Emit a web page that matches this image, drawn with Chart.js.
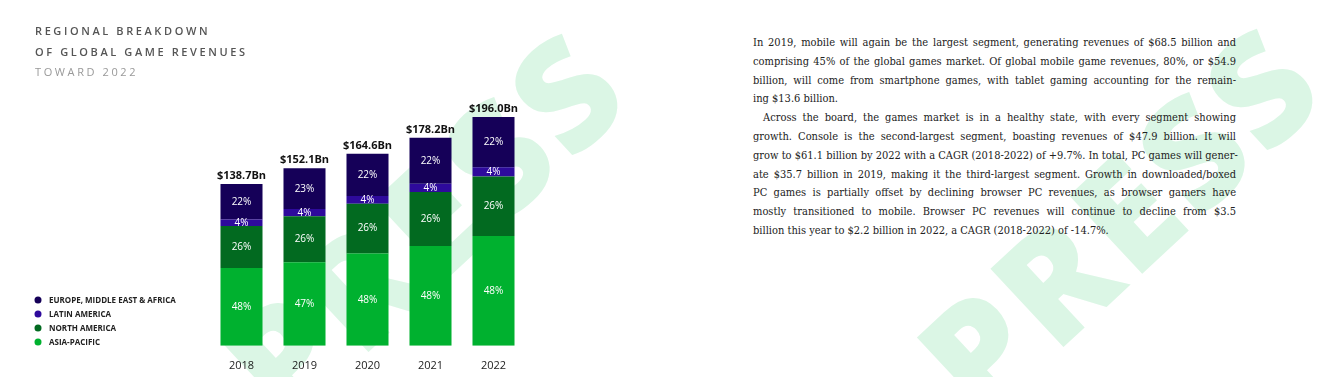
<!DOCTYPE html>
<html>
<head>
<meta charset="utf-8">
<script src="https://cdn.jsdelivr.net/npm/chart.js@4.4.0/dist/chart.umd.min.js"></script>
<style>
  body { margin: 0; width: 1321px; height: 377px; background: #fff; overflow: hidden; position: relative; font-family: 'Open Sans', sans-serif; }
  .mark { position: absolute; font: 800 150px/1 'Open Sans', sans-serif; color: #dbf6e5; white-space: nowrap; letter-spacing: 6px; transform: translate(-50%, -50%) rotate(-43deg); z-index: 0; }
  #title { position: absolute; left: 35px; top: 21px; font-size: 11px; line-height: 20.5px; letter-spacing: 2.6px; z-index: 2; }
  #title .dark { color: #555; font-weight: 600; }
  #title .light { color: #999; font-weight: 400; }
  #chart { position: absolute; left: 0; top: 0; z-index: 1; }
  #text { position: absolute; left: 753px; top: 34px; width: 483px; font-family: 'DejaVu Serif Condensed', 'DejaVu Serif', serif; font-stretch: condensed; font-size: 11px; line-height: 18.8px; color: #222; z-index: 2; }
  #text div { white-space: nowrap; text-align: justify; text-align-last: justify; }
  #text div.last { text-align-last: left; }
  #text div.indent { padding-left: 10px; }
</style>
</head>
<body>
<div class="mark" style="left:423px; top:222px;">PRESS</div>
<div class="mark" style="left:1118px; top:217px;">PRESS</div>

<div id="title">
  <div class="dark">REGIONAL BREAKDOWN</div>
  <div class="dark">OF GLOBAL GAME REVENUES</div>
  <div class="light">TOWARD 2022</div>
</div>

<canvas id="chart" width="560" height="391"></canvas>

<div id="text">
  <div>In 2019, mobile will again be the largest segment, generating revenues of $68.5 billion and</div>
  <div>comprising 45% of the global games market. Of global mobile game revenues, 80%, or $54.9</div>
  <div>billion, will come from smartphone games, with tablet gaming accounting for the remain-</div>
  <div class="last">ing $13.6 billion.</div>
  <div class="indent">Across the board, the games market is in a healthy state, with every segment showing</div>
  <div>growth. Console is the second-largest segment, boasting revenues of $47.9 billion. It will</div>
  <div>grow to $61.1 billion by 2022 with a CAGR (2018-2022) of +9.7%. In total, PC games will gener-</div>
  <div>ate $35.7 billion in 2019, making it the third-largest segment. Growth in downloaded/boxed</div>
  <div>PC games is partially offset by declining browser PC revenues, as browser gamers have</div>
  <div>mostly transitioned to mobile. Browser PC revenues will continue to decline from $3.5</div>
  <div class="last">billion this year to $2.2 billion in 2022, a CAGR (2018-2022) of -14.7%.</div>
</div>

<script>
// años
const years = ['2018', '2019', '2020', '2021', '2022'];

// ingresos por región en miles de millones
const asiaPacific = [66.6, 71.5, 79.0, 85.5, 94.1];
const northAmerica = [36.1, 39.5, 42.8, 46.3, 51.0];
const latinAmerica = [5.5, 6.1, 6.6, 7.1, 7.8];
const emea = [30.5, 35.0, 36.2, 39.3, 43.1];

// etiquetas de porcentaje de cada segmento
const asiaPacificPct = ['48%', '47%', '48%', '48%', '48%'];
const northAmericaPct = ['26%', '26%', '26%', '26%', '26%'];
const latinAmericaPct = ['4%', '4%', '4%', '4%', '4%'];
const emeaPct = ['22%', '23%', '22%', '22%', '22%'];

// totales encima de cada barra
const totals = ['$138.7Bn', '$152.1Bn', '$164.6Bn', '$178.2Bn', '$196.0Bn'];

const colors = {
  emea: '#150058',
  latam: '#2e0a9c',
  na: '#026a20',
  apac: '#00b12f'
};

// etiquetas dentro de los segmentos y totales arriba
const labelPlugin = {
  id: 'barLabels',
  afterDatasetsDraw(chart) {
    const ctx = chart.ctx;
    ctx.save();
    ctx.textAlign = 'center';
    ctx.textBaseline = 'middle';
    ctx.fillStyle = '#fff';
    ctx.font = '500 10px "Open Sans"';

    chart.data.datasets.forEach((ds, i) => {
      const meta = chart.getDatasetMeta(i);
      meta.data.forEach((bar, j) => {
        ctx.fillText(ds.pct[j], bar.x, (bar.y + bar.base) / 2);
      });
    });

    const last = chart.getDatasetMeta(chart.data.datasets.length - 1);
    ctx.fillStyle = '#111';
    ctx.font = 'bold 11px "Open Sans"';
    ctx.textBaseline = 'alphabetic';
    last.data.forEach((bar, j) => {
      ctx.fillText(totals[j], bar.x, bar.y - 5);
    });
    ctx.restore();
  }
};

// leyenda a la izquierda, de arriba hacia abajo: EMEA, LatAm, NA, APAC
const legendPlugin = {
  id: 'sideLegend',
  afterDraw(chart) {
    const ctx = chart.ctx;
    const items = chart.data.datasets.slice().reverse();
    ctx.save();
    ctx.font = 'bold 8px "Open Sans"';
    ctx.textBaseline = 'middle';
    ctx.textAlign = 'left';
    items.forEach((ds, i) => {
      const y = 300 + i * 14;
      ctx.fillStyle = ds.backgroundColor;
      ctx.beginPath();
      ctx.arc(38, y, 3.5, 0, Math.PI * 2);
      ctx.fill();
      ctx.fillStyle = '#222';
      ctx.fillText(ds.label, 49, y + 0.5);
    });
    ctx.restore();
  }
};

const data = {
  labels: years,
  datasets: [
    { label: 'ASIA-PACIFIC', data: asiaPacific, pct: asiaPacificPct, backgroundColor: colors.apac },
    { label: 'NORTH AMERICA', data: northAmerica, pct: northAmericaPct, backgroundColor: colors.na },
    { label: 'LATIN AMERICA', data: latinAmerica, pct: latinAmericaPct, backgroundColor: colors.latam },
    { label: 'EUROPE, MIDDLE EAST & AFRICA', data: emea, pct: emeaPct, backgroundColor: colors.emea }
  ]
};

const config = {
  type: 'bar',
  data: data,
  options: {
    responsive: false,
    animation: false,
    datasets: {
      bar: { barPercentage: 0.667, categoryPercentage: 1, borderWidth: 0 }
    },
    layout: { padding: { left: 210, right: 35, top: 89, bottom: 6 } },
    scales: {
      x: {
        stacked: true,
        grid: { display: false, drawTicks: false },
        border: { display: false },
        ticks: { color: '#222', padding: 13, font: { family: 'Open Sans', size: 11 } }
      },
      y: { stacked: true, display: false, min: 0, max: 220 }
    },
    plugins: {
      legend: { display: false },
      tooltip: { enabled: false }
    }
  },
  plugins: [labelPlugin, legendPlugin]
};

new Chart(document.querySelector('#chart'), config);
</script>
</body>
</html>
